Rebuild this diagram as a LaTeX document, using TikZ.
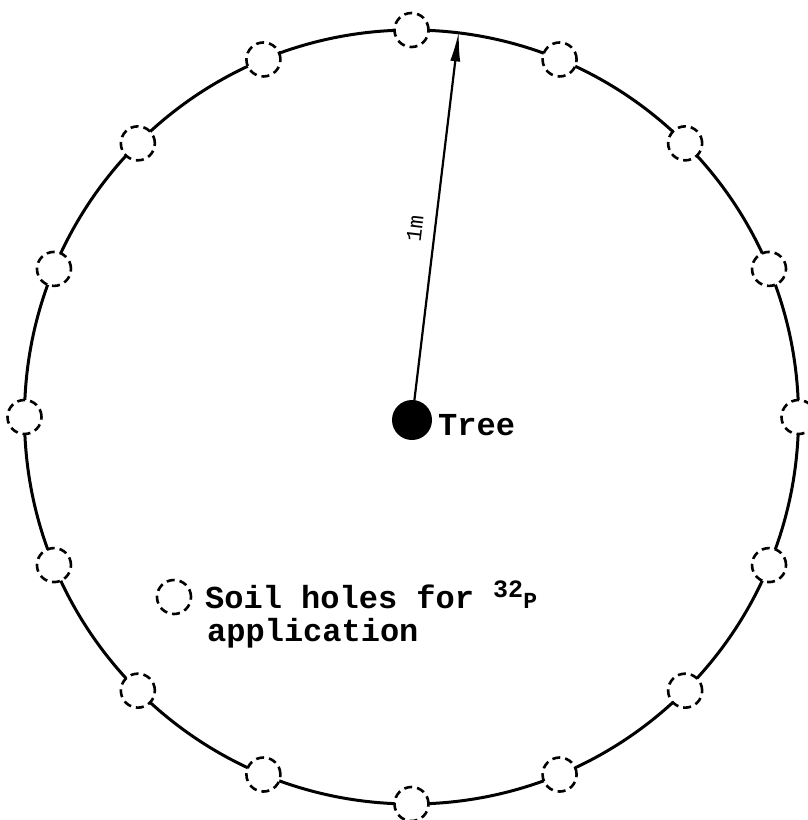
\documentclass[tikz,border=0pt]{standalone}
\usepackage{fontspec}
\setmonofont{Liberation Mono}
\usetikzlibrary{arrows.meta,calc}
\begin{document}
\begin{tikzpicture}[x=1pt,y=-1pt,
  hole/.style={circle, draw, fill=white, line width=2.6pt, dash pattern=on 8pt off 5pt, minimum size=34pt, inner sep=0pt},
  lbl/.style={font=\ttfamily\bfseries\fontsize{32}{32}\selectfont, inner sep=0pt, anchor=base west}]
\useasboundingbox (0,0) rectangle (807,820);
\node[circle, draw, line width=3pt, minimum size=774pt, inner sep=0pt] (ring) at (411.5,417) {};
\foreach \i in {0,...,15}
  \node[hole] (h\i) at ($(ring.center)+({90+22.5*\i}:387pt)$) {};
\draw[line width=2.2pt, -{Latex[length=30pt,width=10pt]}] (412,420) -- (ring.83.4);
\node[circle, fill, minimum size=40pt, inner sep=0pt] (tree) at (412,420) {};
\node[lbl] (treelbl) at (438,435) {Tree};
\node[font=\ttfamily\fontsize{22}{22}\selectfont, rotate=83.4, inner sep=0pt] (mlbl) at (415,229) {1m};
\node[hole] (leg) at (174,597) {};
\node[lbl] (legtxt) at (205,608) {Soil holes for {\fontsize{25}{25}\selectfont\raisebox{11pt}{32}}{\fontsize{23}{23}\selectfont P}};
\node[lbl] (legtxt2) at (207,641) {application};
\end{tikzpicture}
\end{document}
